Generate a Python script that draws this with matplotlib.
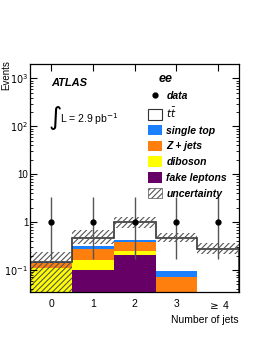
import numpy as np
import matplotlib
matplotlib.use("Agg")
import matplotlib.pyplot as plt
from matplotlib.patches import Patch
from matplotlib.lines import Line2D

plt.rcParams['font.family'] = ['Liberation Sans', 'DejaVu Sans']
plt.rcParams['hatch.linewidth'] = 0.8

# --- data ---
jet_bins = ["0", "1", "2", "3", r"$\geq$ 4"]
fake_leptons = [0.0, 0.10, 0.21, 0.0, 0.0]
diboson = [0.108, 0.06, 0.04, 0.0, 0.0]
z_jets = [0.035, 0.12, 0.14, 0.071, 0.0]
single_top = [0.002, 0.035, 0.04, 0.026, 0.0]
ttbar = [0.0, 0.155, 0.57, 0.37, 0.28]
unc_low = [0.01, 0.35, 0.75, 0.39, 0.22]
unc_high = [0.24, 0.69, 1.3, 0.58, 0.37]
data = [1, 1, 1, 1, 1]
data_err_lo = [0.827, 0.827, 0.827, 0.827, 0.827]
data_err_hi = [2.3, 2.3, 2.3, 2.3, 2.3]

colors = {
    "fake leptons": "#660066",
    "diboson": "#ffff00",
    "Z + jets": "#ff7f0e",
    "single top": "#1a80ff",
}

fig = plt.figure(figsize=(2.62, 3.39), dpi=100)
ax = fig.add_axes([0.116, 0.139, 0.796, 0.672])

edges = np.arange(len(jet_bins) + 1) - 0.5
x = np.arange(len(jet_bins))

# stacked backgrounds
bottom = np.zeros(len(jet_bins))
for name, vals in [("fake leptons", fake_leptons), ("diboson", diboson),
                   ("Z + jets", z_jets), ("single top", single_top)]:
    vals = np.array(vals)
    ax.stairs(bottom + vals, edges, baseline=np.where(bottom > 0, bottom, 1e-3),
              fill=True, color=colors[name], lw=0)
    bottom = bottom + vals
total = bottom + np.array(ttbar)
ax.stairs(total, edges, color="#333333", lw=1.2)

# uncertainty band
ax.stairs(unc_high, edges, baseline=unc_low, fill=True, facecolor="none",
          edgecolor="#555555", hatch="//////", lw=0)

# data
ax.errorbar(x, data, yerr=[data_err_lo, data_err_hi], fmt="o", color="black",
            ms=3.5, ecolor="#555555", elinewidth=1.0, capsize=0)

ax.set_yscale("log")
ax.set_ylim(0.035, 2000)
ax.set_xlim(-0.5, 4.5)

ax.set_yticks([0.1, 1, 10, 100, 1000])
ax.set_yticklabels([r"$10^{-1}$", "1", "10", r"$10^{2}$", r"$10^{3}$"])
ax.set_xticks(x)
ax.set_xticklabels(jet_bins)
ax.tick_params(axis="y", which="major", direction="in", length=5, right=True,
               labelsize=7, width=0.8, pad=1.5)
ax.tick_params(axis="y", which="minor", direction="in", length=2.5, right=True,
               width=0.6)
ax.tick_params(axis="x", which="major", direction="in", length=5, top=True,
               bottom=False, labelsize=7.5, pad=5, width=0.8)
for sp in ax.spines.values():
    sp.set_linewidth(0.9)

ax.set_xlabel("Number of jets", fontsize=7.5, loc="right", labelpad=3)
fig.text(6.5 / 262, 1 - 60 / 339, "Events", fontsize=7, rotation=90,
         ha="center", va="top")

ax.text(0.1, 0.915, "ATLAS", transform=ax.transAxes, fontsize=8,
        fontweight="bold", style="italic", va="center")
ax.text(0.085, 0.765, r"$\int$", transform=ax.transAxes, fontsize=13, va="center")
ax.text(0.14, 0.76, r"L = 2.9 pb$^{-1}$", transform=ax.transAxes, fontsize=7.5,
        va="center")

handles = [
    Line2D([], [], marker="o", color="black", ls="none", ms=3.5),
    Patch(facecolor="white", edgecolor="#333333", lw=0.8),
    Patch(facecolor=colors["single top"], lw=0),
    Patch(facecolor=colors["Z + jets"], lw=0),
    Patch(facecolor=colors["diboson"], lw=0),
    Patch(facecolor=colors["fake leptons"], lw=0),
    Patch(facecolor="white", edgecolor="#555555", hatch="//////", lw=0.5),
]
labels = ["data", r"$t\bar{t}$", "single top", "Z + jets", "diboson",
          "fake leptons", "uncertainty"]
leg = ax.legend(handles, labels, loc="upper left", bbox_to_anchor=(0.565, 0.885),
                frameon=False, handlelength=1.3, handleheight=1.15,
                handletextpad=0.45, labelspacing=0.48, borderaxespad=0,
                borderpad=0, prop={"weight": "bold", "style": "italic", "size": 7.5})
ax.text(0.65, 0.935, "ee", transform=ax.transAxes, fontsize=9, fontweight="bold",
        style="italic", va="center", ha="center")

fig.savefig("out.png", dpi=100)
